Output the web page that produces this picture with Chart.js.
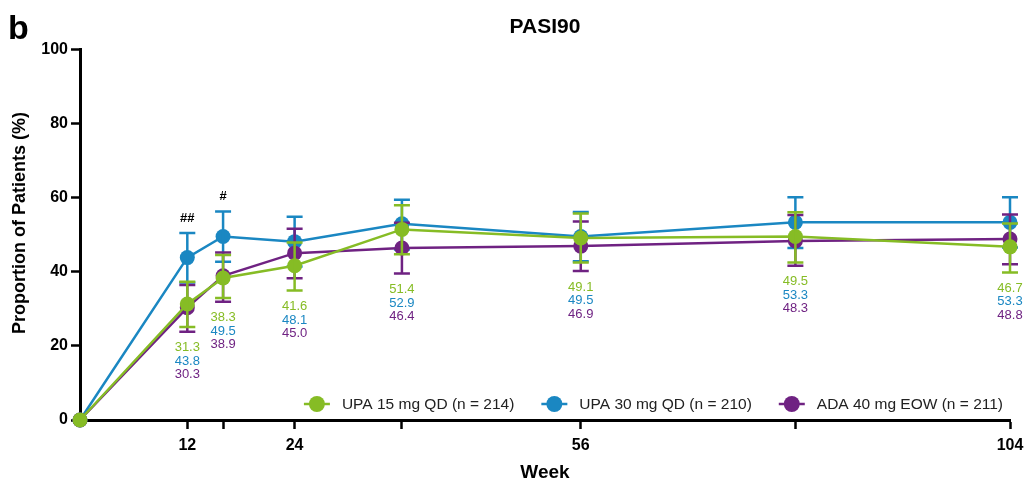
<!DOCTYPE html>
<html>
<head>
<meta charset="utf-8">
<script src="https://cdn.jsdelivr.net/npm/chart.js@4.4.1/dist/chart.umd.min.js"></script>
<style>
  html,body{margin:0;padding:0;background:#fff}
  #wrap{position:relative;width:1027px;height:482px}
</style>
</head>
<body>
<div id="wrap"><canvas id="pasi"></canvas></div>
<script>
// ---- data ----
const weeks=[0,12,16,24,36,56,80,104];
const xTicks=[12,16,24,36,56,80,104];
const xTickLabels=['12','','24','','56','','104'];

const upa15=[0,31.3,38.3,41.6,51.4,49.1,49.5,46.7];
const upa15Lo=[null,25.1,32.9,34.9,44.7,42.5,42.5,39.8];
const upa15Hi=[null,37.3,44.5,47.9,57.9,55.7,56.0,53.0];

const upa30=[0,43.8,49.5,48.1,52.9,49.5,53.3,53.3];
const upa30Lo=[null,37.1,42.7,41.4,46.0,42.8,46.4,46.5];
const upa30Hi=[null,50.4,56.2,54.8,59.4,56.1,60.1,60.1];

const ada=[0,30.3,38.9,45.0,46.4,46.9,48.3,48.8];
const adaLo=[null,23.8,31.9,38.2,39.5,40.2,41.6,42.0];
const adaHi=[null,36.4,45.2,51.6,53.2,53.5,55.3,55.4];

const sigMarks=['','##','#','','','','',''];

const SERIES=[
  {label:'UPA 15 mg QD (n = 214)',color:'#86BC25',vals:upa15,lo:upa15Lo,hi:upa15Hi,order:0},
  {label:'UPA 30 mg QD (n = 210)',color:'#1A87C2',vals:upa30,lo:upa30Lo,hi:upa30Hi,order:2},
  {label:'ADA 40 mg EOW (n = 211)',color:'#6F2282',vals:ada,lo:adaLo,hi:adaHi,order:1}
];

const FONT='"Liberation Sans", Arial, sans-serif';

// error bars, drawn right after each dataset so stacking follows dataset order
const errorBars={
  id:'errorBars',
  afterDatasetDraw(chart,args){
    const s=SERIES[args.index];const x=chart.scales.x,y=chart.scales.y;const c=chart.ctx;
    c.save();c.strokeStyle=s.color;c.lineWidth=2.5;
    weeks.forEach((w,i)=>{
      if(s.lo[i]==null)return;
      const px=x.getPixelForValue(w),pl=y.getPixelForValue(s.lo[i]),ph=y.getPixelForValue(s.hi[i]);
      c.beginPath();
      c.moveTo(px,pl);c.lineTo(px,ph);
      c.moveTo(px-8,pl);c.lineTo(px+8,pl);
      c.moveTo(px-8,ph);c.lineTo(px+8,ph);
      c.stroke();
    });
    c.restore();
  }
};

// value labels under each visit, significance marks, panel letter, y title, legend
const annotations={
  id:'annotations',
  afterDraw(chart){
    const x=chart.scales.x,y=chart.scales.y;const c=chart.ctx;
    c.save();
    c.textAlign='center';c.textBaseline='middle';
    weeks.forEach((w,i)=>{
      if(i===0)return;
      const px=x.getPixelForValue(w);
      const lowest=Math.min(...SERIES.map(s=>s.lo[i]));
      const top=y.getPixelForValue(lowest)+16;
      c.font='13px '+FONT;
      SERIES.forEach((s,k)=>{c.fillStyle=s.color;c.fillText(s.vals[i].toFixed(1),px,top+k*13.5)});
      if(sigMarks[i]){
        c.font='bold 13px '+FONT;c.fillStyle='#000';
        c.fillText(sigMarks[i],px,y.getPixelForValue(upa30Hi[i])-15);
      }
    });
    // y axis title, sits a little above the middle of the axis
    c.save();c.translate(20,223);c.rotate(-Math.PI/2);
    c.font='bold 18px '+FONT;c.fillStyle='#000';
    c.fillText('Proportion of Patients (%)',0,0);
    c.restore();
    // panel letter
    c.textAlign='left';c.textBaseline='alphabetic';c.fillStyle='#000';
    c.font='bold 34px '+FONT;c.fillText('b',8,39);
    // legend, right-aligned inside the plot area
    c.font='15.5px '+FONT;c.textBaseline='middle';
    const ly=404;let xr=1003;const items=[];
    for(let k=SERIES.length-1;k>=0;k--){
      const tw=c.measureText(SERIES[k].label).width;
      const tx=xr-tw;const cx=tx-25;
      items.push({s:SERIES[k],tx,cx});
      xr=cx-40;
    }
    items.forEach(it=>{
      c.strokeStyle=it.s.color;c.lineWidth=2.5;
      c.beginPath();c.moveTo(it.cx-13,ly);c.lineTo(it.cx+13,ly);c.stroke();
      c.fillStyle=it.s.color;c.beginPath();c.arc(it.cx,ly,8,0,Math.PI*2);c.fill();
      c.fillStyle='#222';c.fillText(it.s.label,it.tx,ly+1);
    });
    c.restore();
  }
};

new Chart(document.getElementById('pasi'),{
  type:'line',
  data:{
    datasets:SERIES.map(s=>({
      label:s.label,
      data:weeks.map((w,i)=>({x:w,y:s.vals[i]})),
      borderColor:s.color,backgroundColor:s.color,
      borderWidth:2.5,pointRadius:7.5,pointHoverRadius:7.5,pointBorderWidth:0,
      tension:0,clip:false,order:s.order
    }))
  },
  options:{
    responsive:true,maintainAspectRatio:false,animation:false,
    layout:{padding:{top:0,right:17,left:0,bottom:0}},
    plugins:{
      legend:{display:false},
      tooltip:{enabled:false},
      title:{display:true,text:'PASI90',fullSize:false,color:'#000',
        font:{family:FONT,size:21,weight:'bold'},padding:{top:15,bottom:9}}
    },
    scales:{
      x:{
        type:'linear',min:0,max:104,
        afterBuildTicks:sc=>{sc.ticks=xTicks.map(v=>({value:v}))},
        afterFit:sc=>{sc.height=62;sc.paddingRight=0;sc.paddingLeft=0},
        ticks:{color:'#000',font:{family:FONT,size:16,weight:'bold'},padding:7,maxRotation:0,autoSkip:false,
          callback:v=>xTickLabels[xTicks.indexOf(v)]},
        grid:{drawOnChartArea:false,drawTicks:true,tickLength:9,tickColor:'#000',tickWidth:2.5},
        border:{color:'#000',width:3},
        title:{display:true,text:'Week',color:'#000',font:{family:FONT,size:19,weight:'bold'},padding:{top:0,bottom:-2}}
      },
      y:{
        min:0,max:100,
        afterFit:sc=>{sc.width=80},
        ticks:{stepSize:20,color:'#000',font:{family:FONT,size:16,weight:'bold'},padding:3},
        grid:{drawOnChartArea:false,drawTicks:true,tickLength:9,tickColor:'#000',tickWidth:2.5},
        border:{color:'#000',width:3}
      }
    }
  },
  plugins:[errorBars,annotations]
});
</script>
</body>
</html>
